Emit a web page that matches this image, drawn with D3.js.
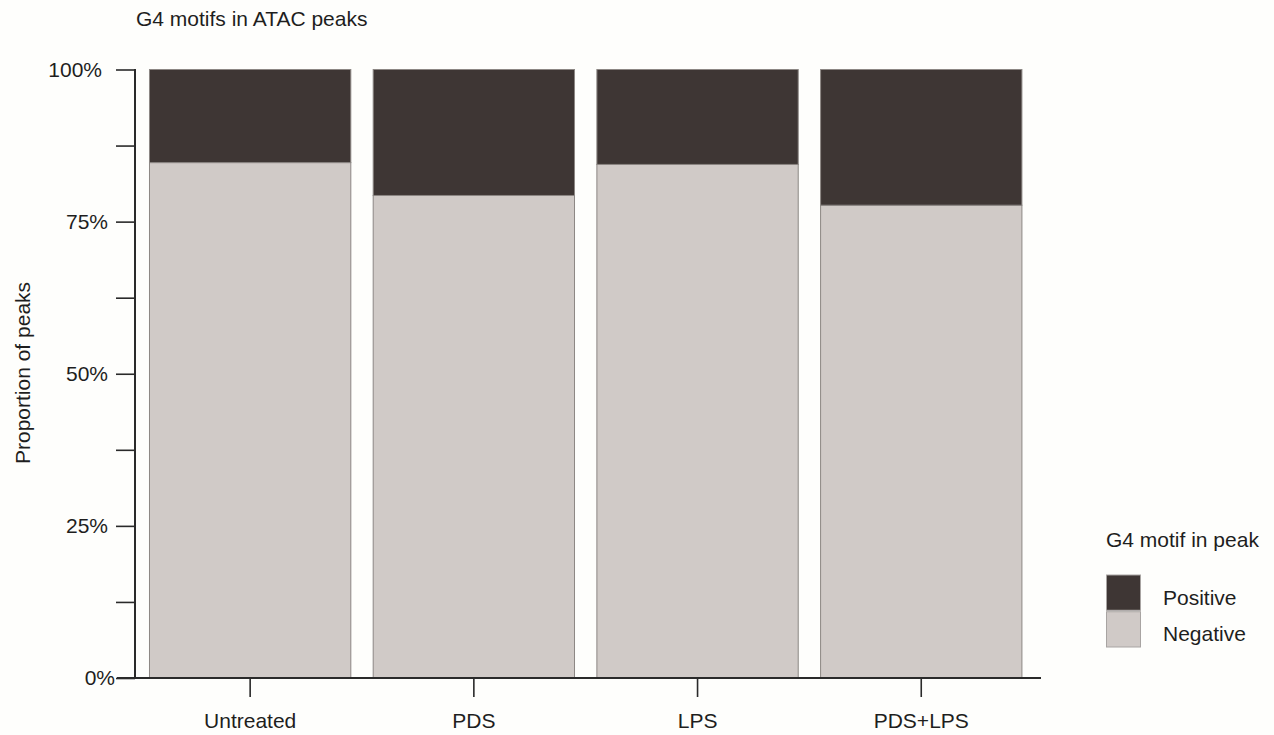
<!DOCTYPE html>
<html>
<head>
<meta charset="utf-8">
<script src="https://cdn.jsdelivr.net/npm/d3@7"></script>
<style>
  html, body { margin: 0; padding: 0; background: #fefefc; }
  svg { display: block; font-family: "Liberation Sans", Arial, sans-serif; }
  text { fill: #1e1e1e; }
</style>
</head>
<body>
<svg id="chart" width="1274" height="735"></svg>
<script>
// Share of ATAC peaks with / without a G4 motif, per treatment
const categories = ["Untreated", "PDS", "LPS", "PDS+LPS"];
const negative = [0.847, 0.793, 0.844, 0.777];
const positive = [0.153, 0.207, 0.156, 0.223];
const seriesKeys = ["Negative", "Positive"];
const yTickValues = [0, 0.125, 0.25, 0.375, 0.5, 0.625, 0.75, 0.875, 1];
const yTickLabels = ["0%", "", "25%", "", "50%", "", "75%", "", "100%"];
const legendLabels = ["Positive", "Negative"];

const colors = { Negative: "#d0cac7", Positive: "#3e3634" };
const FS = 21;

const svg = d3.select("#chart");

const rows = categories.map((c, i) => ({ category: c, Negative: negative[i], Positive: positive[i] }));
const stacked = d3.stack().keys(seriesKeys)(rows);

const x = d3.scaleBand().domain(categories).range([138.3, 1033.1]).paddingInner(0.1).paddingOuter(0.05);
const y = d3.scaleLinear().domain([0, 1]).range([678, 69.5]);

// bars
svg.append("g").selectAll("g")
  .data(stacked)
  .join("g")
    .attr("fill", d => colors[d.key])
  .selectAll("rect")
  .data(d => d)
  .join("rect")
    .attr("x", d => x(d.data.category))
    .attr("width", x.bandwidth())
    .attr("y", d => y(d[1]))
    .attr("height", d => y(d[0]) - y(d[1]))
    .attr("stroke", "#8c8784")
    .attr("stroke-width", 1);

// y axis
const labelShift = { "0%": 7, "100%": -6 };
const yAxis = svg.append("g")
  .attr("transform", "translate(135,0)")
  .call(d3.axisLeft(y)
    .tickValues(yTickValues)
    .tickSize(19)
    .tickPadding(8)
    .tickFormat((d, i) => yTickLabels[i]));
yAxis.select(".domain").remove();
yAxis.selectAll(".tick line").attr("stroke", "#2a2a2a").attr("stroke-width", 1.6);
yAxis.selectAll(".tick text")
  .attr("font-size", FS)
  .attr("fill", "#1e1e1e")
  .attr("dx", function () { return labelShift[this.textContent] || 0; });
svg.append("line")
  .attr("x1", 135).attr("x2", 135)
  .attr("y1", y(1) - 0.5).attr("y2", y(0))
  .attr("stroke", "#2a2a2a").attr("stroke-width", 2);

// x axis
const xAxis = svg.append("g")
  .attr("transform", "translate(0,678)")
  .call(d3.axisBottom(x).tickSize(19).tickPadding(16.1));
xAxis.select(".domain").remove();
xAxis.selectAll(".tick line").attr("stroke", "#2a2a2a").attr("stroke-width", 1.6);
xAxis.selectAll(".tick text").attr("font-size", FS).attr("fill", "#1e1e1e");
svg.append("line")
  .attr("x1", 117).attr("x2", 1041)
  .attr("y1", 678).attr("y2", 678)
  .attr("stroke", "#2a2a2a").attr("stroke-width", 2);

// titles
svg.append("text")
  .attr("x", 136).attr("y", 26)
  .attr("font-size", FS)
  .text("G4 motifs in ATAC peaks");

svg.append("text")
  .attr("transform", "translate(29.5,373) rotate(-90)")
  .attr("text-anchor", "middle")
  .attr("font-size", FS)
  .text("Proportion of peaks");

// legend
const legend = svg.append("g");
legend.append("text")
  .attr("x", 1106).attr("y", 547)
  .attr("font-size", FS)
  .text("G4 motif in peak");
const legendY = d3.scaleBand().domain(legendLabels).range([575, 647]).paddingInner(0.04);
legend.selectAll("rect.key")
  .data(legendLabels)
  .join("rect")
    .attr("class", "key")
    .attr("x", 1106.5)
    .attr("y", d => legendY(d))
    .attr("width", 34)
    .attr("height", legendY.bandwidth())
    .attr("fill", d => colors[d])
    .attr("stroke", "#a8a4a2")
    .attr("stroke-width", 1);
legend.selectAll("text.lab")
  .data(legendLabels)
  .join("text")
    .attr("class", "lab")
    .attr("x", 1163)
    .attr("y", d => legendY(d) + legendY.bandwidth() / 2 + 12)
    .attr("font-size", FS)
    .text(d => d);
</script>
</body>
</html>
